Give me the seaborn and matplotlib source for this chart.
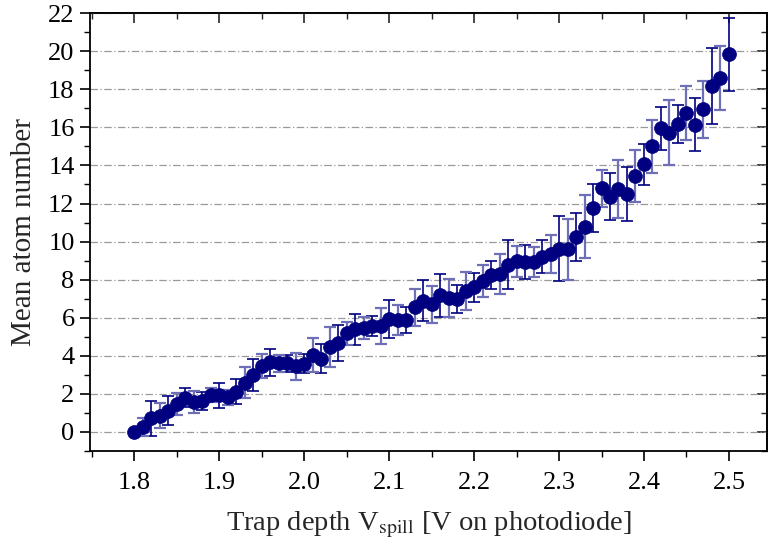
import numpy as np
import pandas as pd
import matplotlib
matplotlib.use("Agg")
import matplotlib.pyplot as plt
from matplotlib.ticker import MultipleLocator
import seaborn as sns

# Data
voltage = [1.80, 1.81, 1.82, 1.83, 1.84, 1.85, 1.86, 1.87, 1.88, 1.89,
           1.90, 1.91, 1.92, 1.93, 1.94, 1.95, 1.96, 1.97, 1.98, 1.99,
           2.00, 2.01, 2.02, 2.03, 2.04, 2.05, 2.06, 2.07, 2.08, 2.09,
           2.10, 2.11, 2.12, 2.13, 2.14, 2.15, 2.16, 2.17, 2.18, 2.19,
           2.20, 2.21, 2.22, 2.23, 2.24, 2.25, 2.26, 2.27, 2.28, 2.29,
           2.30, 2.31, 2.32, 2.33, 2.34, 2.35, 2.36, 2.37, 2.38, 2.39,
           2.40, 2.41, 2.42, 2.43, 2.44, 2.45, 2.46, 2.47, 2.48, 2.49,
           2.50]
mean_atoms = [0.00, 0.26, 0.72, 0.86, 1.12, 1.47, 1.80, 1.57, 1.64, 1.96,
              1.93, 1.82, 2.12, 2.59, 2.99, 3.45, 3.66, 3.60, 3.60, 3.45,
              3.59, 4.03, 3.85, 4.48, 4.69, 5.18, 5.39, 5.48, 5.56, 5.58,
              5.95, 5.88, 5.88, 6.54, 6.89, 6.70, 7.18, 7.05, 6.98, 7.40,
              7.60, 7.94, 8.24, 8.29, 8.78, 8.96, 8.94, 8.92, 9.20, 9.34,
              9.62, 9.59, 10.25, 10.78, 11.76, 12.79, 12.35, 12.76, 12.50, 13.45,
              14.05, 15.00, 15.96, 15.73, 16.20, 16.75, 16.15, 16.95, 18.18, 18.60,
              19.83]
errors = [0.00, 0.45, 0.93, 0.65, 0.75, 0.60, 0.50, 0.57, 0.48, 0.37,
          0.66, 0.40, 0.65, 0.80, 0.85, 0.64, 0.72, 0.45, 0.45, 0.70,
          0.50, 0.90, 0.76, 1.05, 0.95, 0.60, 0.80, 0.58, 0.54, 0.95,
          1.00, 0.80, 0.66, 0.95, 1.07, 0.96, 1.14, 1.00, 0.75, 1.00,
          0.75, 0.85, 0.72, 1.05, 1.28, 0.83, 0.90, 0.78, 0.86, 1.00,
          1.70, 1.60, 1.25, 1.65, 1.25, 0.95, 1.23, 1.54, 1.40, 1.37,
          1.07, 1.40, 1.13, 1.70, 1.00, 1.40, 1.37, 1.50, 2.00, 1.70,
          1.90]
x_ticks = [1.8, 1.9, 2.0, 2.1, 2.2, 2.3, 2.4, 2.5]
y_ticks = [0, 2, 4, 6, 8, 10, 12, 14, 16, 18, 20, 22]

df = pd.DataFrame({"V": voltage, "N": mean_atoms, "err": errors})

sns.set_theme(style="ticks")
plt.rcParams["font.family"] = ["Liberation Serif", "DejaVu Serif"]
plt.rcParams["mathtext.fontset"] = "stix"

fig = plt.figure(figsize=(7.68, 5.48), dpi=100)
ax = fig.add_axes([0.117, 0.177, 0.882, 0.799])

navy = "#000080"
light = "#6f6fb8"

even = df.iloc[::2]
odd = df.iloc[1::2]
ax.errorbar(even["V"], even["N"], yerr=even["err"], fmt="none",
            ecolor=navy, elinewidth=1.2, capsize=4.2, capthick=1.2, zorder=2)
ax.errorbar(odd["V"], odd["N"], yerr=odd["err"], fmt="none",
            ecolor=light, elinewidth=1.6, capsize=4.2, capthick=1.6, zorder=2)

sns.scatterplot(data=df, x="V", y="N", ax=ax, color=navy, s=100,
                edgecolor=navy, linewidth=0.5, zorder=3, legend=False)

ax.set_xlim(1.748, 2.545)
ax.set_ylim(-1, 22)
ax.set_xticks(x_ticks)
ax.set_xticklabels([f"{t:.1f}" for t in x_ticks])
ax.set_yticks(y_ticks)
ax.xaxis.set_minor_locator(MultipleLocator(0.05))
ax.yaxis.set_minor_locator(MultipleLocator(1))

ax.yaxis.grid(True, which="major", linestyle=(0, (6, 2, 1, 2)),
              color="#9a9a9a", linewidth=0.9)
ax.set_axisbelow(True)

for s in ax.spines.values():
    s.set_visible(True)
    s.set_color("black")
    s.set_linewidth(1.3)

ax.tick_params(axis="both", which="major", length=7, width=1.2,
               labelsize=19, color="black", labelcolor="black")
ax.tick_params(axis="both", which="minor", length=4, width=1.0, color="black")
ax.tick_params(axis="x", which="both", direction="out", top=False)
ax.tick_params(axis="x", which="major", pad=8)
ax.tick_params(axis="y", which="both", direction="out", right=False)
ax.tick_params(axis="y", which="major", pad=4)

# mirrored inward ticks on top and right
axt = ax.secondary_xaxis("top")
axt.set_xticks(x_ticks)
axt.xaxis.set_minor_locator(MultipleLocator(0.05))
axt.tick_params(which="major", direction="in", length=7, width=1.2, labeltop=False)
axt.tick_params(which="minor", direction="in", length=4, width=1.0)
axt.spines["top"].set_linewidth(1.3)
axr = ax.secondary_yaxis("right")
axr.set_yticks(y_ticks)
axr.yaxis.set_minor_locator(MultipleLocator(1))
axr.tick_params(which="major", direction="in", length=7, width=1.2, labelright=False)
axr.tick_params(which="minor", direction="in", length=4, width=1.0)
axr.spines["right"].set_linewidth(1.3)

ax.set_xlabel(r"Trap depth V$_{\mathrm{spill}}$ [V on photodiode]", fontsize=20.5, labelpad=11)
ax.set_ylabel("Mean atom number", fontsize=21, labelpad=8)

fig.savefig("out.png", dpi=100)
